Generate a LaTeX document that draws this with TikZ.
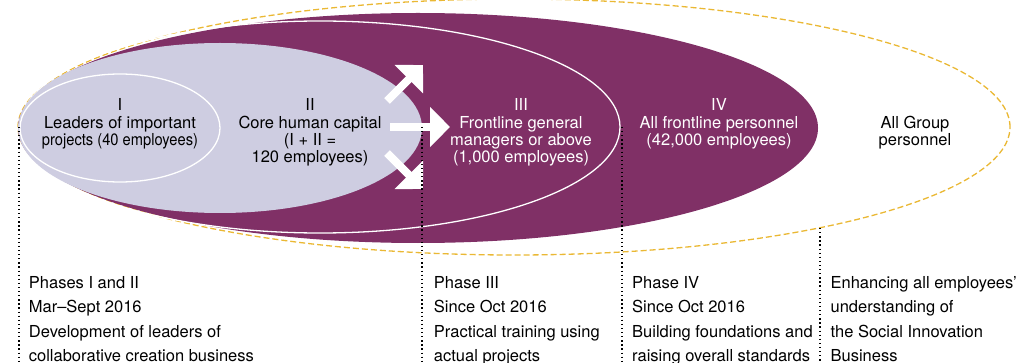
\documentclass[tikz,border=0pt]{standalone}
\usepackage{fontspec}
\setmainfont{TeX Gyre Heros}
\usetikzlibrary{arrows.meta}
\definecolor{hpurple}{RGB}{128,48,102}
\definecolor{hlav}{RGB}{206,205,225}
\definecolor{hgold}{RGB}{234,184,52}
\tikzset{
  ringtext/.style={align=center,anchor=north,inner sep=0pt,font=\fontsize{16.5}{17.3}\selectfont},
  phasetext/.style={align=left,anchor=north west,inner sep=0pt,font=\fontsize{16.5}{24.2}\selectfont},
  dotline/.style={line width=1.3pt,dash pattern=on 1.3pt off 2.8pt},
  widearrow/.style={white,line width=8pt,-{Triangle[length=20pt,width=39pt]}}
}
\begin{document}
\begin{tikzpicture}[x=1pt,y=-1pt]
\useasboundingbox (0,0) rectangle (1032,363);
\coordinate (all) at (514,127);
\coordinate (iv) at (418,128);
\coordinate (iii) at (320,127);
\coordinate (ii) at (220,128);
\coordinate (i) at (120,128);

\draw[hgold,line width=1.3pt,dash pattern=on 6pt off 3pt] (all) ellipse [x radius=496pt,y radius=128pt];
\fill[hpurple] (iv) ellipse [x radius=400pt,y radius=115pt];
\draw[white,line width=1.3pt] (iii) ellipse [x radius=300pt,y radius=106pt];
\fill[hlav] (ii) ellipse [x radius=202pt,y radius=85pt];
\draw[white,fill=hlav,line width=1.3pt] (i) ellipse [x radius=100pt,y radius=54pt];

\coordinate (upA) at (387,101);
\coordinate (upB) at (423,65);
\coordinate (midA) at (390,127);
\coordinate (midB) at (450,127);
\coordinate (lowA) at (387,153);
\coordinate (lowB) at (423,189);
\draw[widearrow] (upA) -- (upB);
\draw[widearrow] (midA) -- (midB);
\draw[widearrow] (lowA) -- (lowB);

\coordinate (cutI) at (19,127);
\coordinate (cutIII) at (422,127);
\coordinate (cutIV) at (622,127);
\coordinate (cutAll) at (820,228);
\draw[dotline] (cutI) -- (cutI |- 0,363);
\draw[dotline] (cutIII) -- (cutIII |- 0,363);
\draw[dotline] (cutIV) -- (cutIV |- 0,363);
\draw[dotline] (cutAll) -- (cutAll |- 0,363);

\node[ringtext] (tI) at (120,98.5) {I\\Leaders of important\\\scalebox{0.89}[1]{projects (40 employees)}};
\node[ringtext] (tII) at (310,98.5) {II\\Core human capital\\(I + II =\\120 employees)};
\node[ringtext,white] (tIII) at (521,98.5) {III\\Frontline general\\managers or above\\(1,000 employees)};
\node[ringtext,white] (tIV) at (719,98.5) {IV\\All frontline personnel\\(42,000 employees)};
\node[ringtext] (tAll) at (915,115.5) {All Group\\personnel};

\node[phasetext] (pI) at (28.7,276.5) {Phases I and II\\Mar–Sept 2016\\Development of leaders of\\collaborative creation business};
\node[phasetext] (pIII) at (433.7,276.5) {Phase III\\Since Oct 2016\\Practical training using\\actual projects};
\node[phasetext] (pIV) at (632,276.5) {Phase IV\\Since Oct 2016\\Building foundations and\\raising overall standards};
\node[phasetext] (pAll) at (830.4,276.5) {Enhancing all employees’\\understanding of\\the Social Innovation\\Business};
\end{tikzpicture}
\end{document}
